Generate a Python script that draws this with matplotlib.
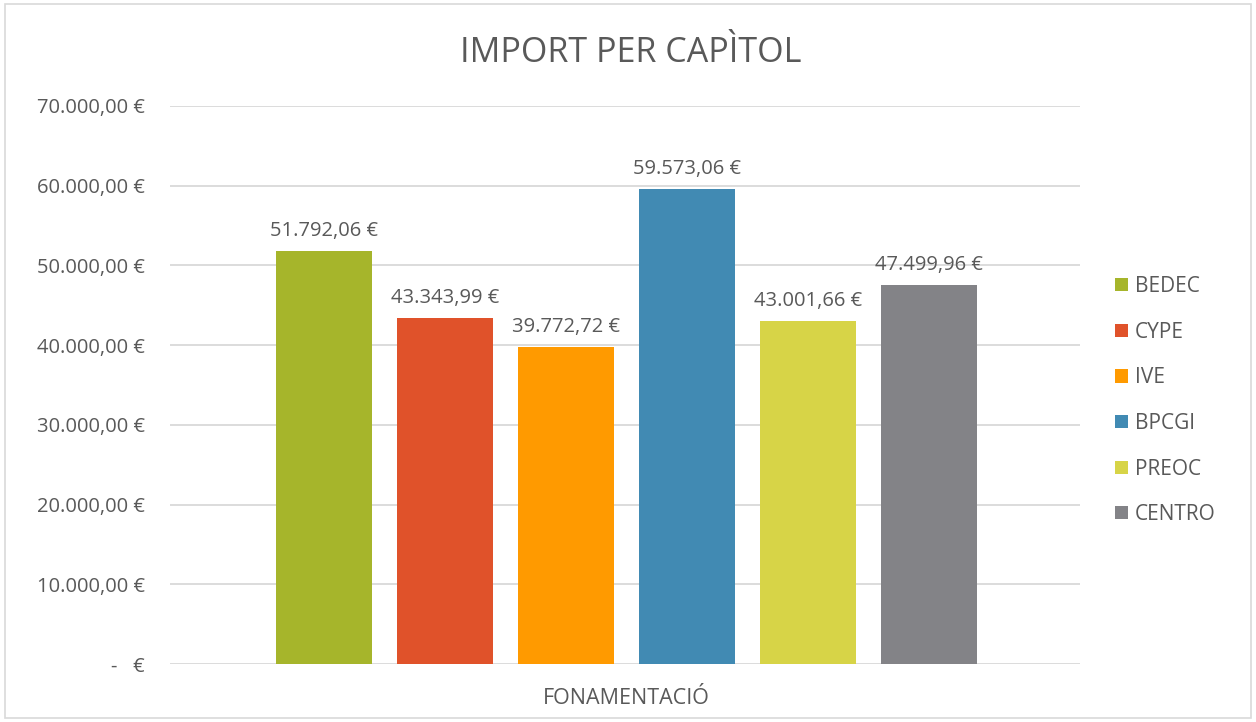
import matplotlib.pyplot as plt
from matplotlib.patches import Rectangle

categoria = "FONAMENTACIÓ"
series = ["BEDEC", "CYPE", "IVE", "BPCGI", "PREOC", "CENTRO"]
valors = [51792.06, 43343.99, 39772.72, 59573.06, 43001.66, 47499.96]
colors = ["#A6B52B", "#E0522A", "#FF9A00", "#418AB3", "#D7D447", "#838387"]
yticks = [0, 10000, 20000, 30000, 40000, 50000, 60000, 70000]

gris = "#595959"
plt.rcParams['font.family'] = ['Open Sans', 'DejaVu Sans']


def eur(v):
    if v == 0:
        return "-   €"
    s = f"{v:,.2f}".replace(",", "X").replace(".", ",").replace("X", ".")
    return s + " €"


fig = plt.figure(figsize=(12.56, 7.22), dpi=100)
fig.patches.append(Rectangle((0.004, 0.006), 0.992, 0.988, transform=fig.transFigure,
                             fill=False, edgecolor="#D9D9D9", linewidth=1.2))
ax = fig.add_axes([0.1354, 0.0803, 0.7245, 0.7729])

step = 1.0
width = 0.79
offs = [(i - 2.5) * step for i in range(len(series))]
for o, v, c, n in zip(offs, valors, colors, series):
    ax.bar(o, v, width=width, color=c, label=n, zorder=3)
    ax.text(o, v + 1300, eur(v), ha="center", va="bottom", fontsize=14.5, color=gris)

ax.set_xlim(-3.77, 3.75)
ax.set_ylim(0, 70000)
ax.set_yticks(yticks)
ax.set_yticklabels([eur(t) for t in yticks], fontsize=14.5, color=gris)
ax.set_xticks([0])
ax.set_xticklabels([categoria], fontsize=15.5, color=gris)
ax.tick_params(axis="y", length=0, pad=18)
ax.tick_params(axis="x", length=0, pad=17)
ax.grid(axis="y", color="#D9D9D9", linewidth=1.3, zorder=0)
for s in ax.spines.values():
    s.set_visible(False)

fig.text(0.502, 0.927, "IMPORT PER CAPÌTOL", ha="center", va="center", fontsize=24.5, color=gris)

ax.legend(loc="center left", bbox_to_anchor=(1.018, 0.472), frameon=False, fontsize=15,
          labelspacing=1.18, handlelength=0.6, handleheight=0.6, handletextpad=0.35,
          labelcolor=gris)

plt.savefig("out.png", dpi=100)
